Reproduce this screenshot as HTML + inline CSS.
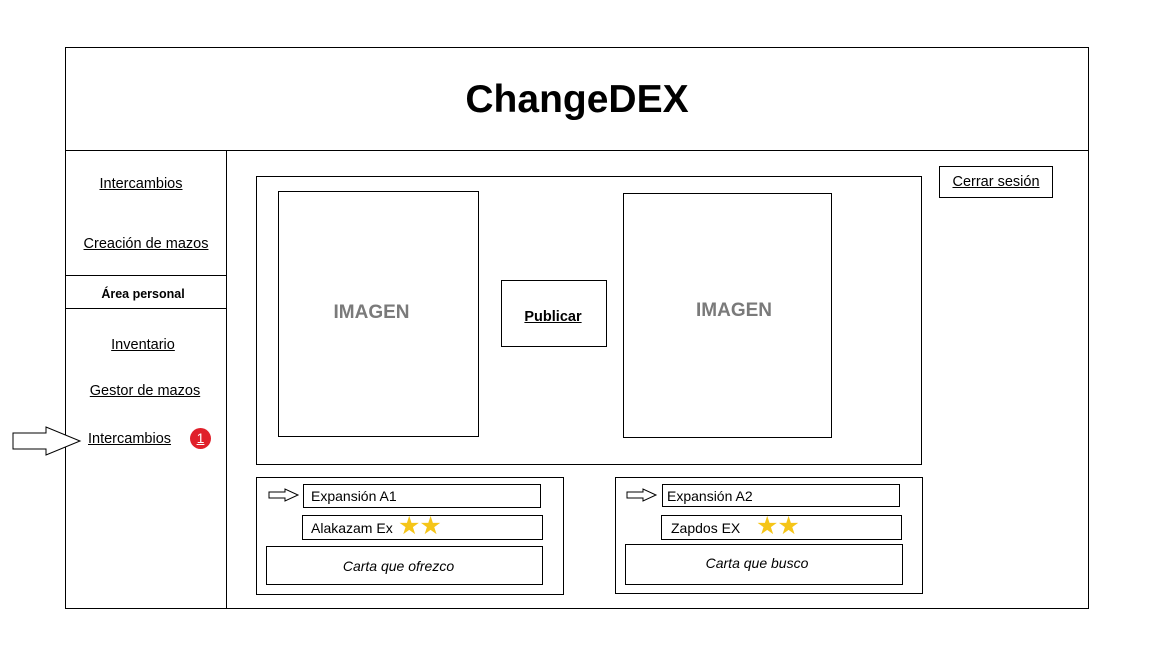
<!DOCTYPE html>
<html><head><meta charset="utf-8"><style>
html,body{margin:0;padding:0;background:#fff;}
body{width:1152px;height:648px;position:relative;overflow:hidden;font-family:"Liberation Sans",sans-serif;color:#000;}
.b{position:absolute;border:1px solid #000;box-sizing:border-box;}
.t{position:absolute;white-space:nowrap;}
.u{text-decoration:underline;font-size:14.5px;}
.c{text-align:center;}
.img{font-weight:700 !important;color:#7a7a7a;font-size:19px;}
.star{color:#f5c518;font-size:25px;letter-spacing:-1px;}
</style></head><body>
<div class="b" style="left:65px;top:47px;width:1024px;height:562px;"></div>
<div class="b" style="left:65px;top:150px;width:1024px;height:1px;border:none;background:#000;"></div>
<div class="b" style="left:226px;top:150px;width:1px;height:459px;border:none;background:#000;"></div>
<div class="b" style="left:65px;top:275px;width:162px;height:1px;border:none;background:#000;"></div>
<div class="b" style="left:65px;top:308px;width:162px;height:1px;border:none;background:#000;"></div>
<div class="t c" style="left:65px;width:1024px;top:78px;font-size:39px;font-weight:bold;">ChangeDEX</div>

<div class="t u c" style="left:65px;width:152px;top:176px;">Intercambios</div>
<div class="t u c" style="left:65px;width:162px;top:236px;">Creación de mazos</div>
<div class="t c" style="left:65px;width:156px;top:287px;font-size:12.5px;font-weight:bold;">Área personal</div>
<div class="t u c" style="left:65px;width:156px;top:337px;">Inventario</div>
<div class="t u c" style="left:65px;width:160px;top:383px;">Gestor de mazos</div>
<div class="t u" style="left:88px;top:431px;">Intercambios</div>
<div class="t" style="left:190px;top:428px;width:21px;height:21px;border-radius:50%;background:#e0202a;color:#fff;font-size:14px;text-align:center;line-height:21px;text-decoration:underline;">1</div>
<svg style="position:absolute;left:0;top:0" width="1152" height="648">
<polygon points="13,433 46,433 46,427 80,441 46,455 46,449 13,449" fill="#fff" stroke="#000" stroke-width="1"/>
<polygon points="269,492 285,492 285,489 298,495 285,501 285,498 269,498" fill="#fff" stroke="#000" stroke-width="1"/>
<polygon points="627,492 643,492 643,489 656,495 643,501 643,498 627,498" fill="#fff" stroke="#000" stroke-width="1"/>
</svg>

<div class="b" style="left:939px;top:166px;width:114px;height:32px;"></div>
<div class="t u c" style="left:939px;width:114px;top:174px;">Cerrar sesión</div>

<div class="b" style="left:256px;top:176px;width:666px;height:289px;"></div>
<div class="b" style="left:278px;top:191px;width:201px;height:246px;"></div>
<div class="t c img" style="left:278px;width:187px;top:302px;font-weight:bold;">IMAGEN</div>
<div class="b" style="left:501px;top:280px;width:106px;height:67px;"></div>
<div class="t c" style="left:501px;width:104px;top:309px;font-weight:bold;font-size:14.5px;text-decoration:underline;">Publicar</div>
<div class="b" style="left:623px;top:193px;width:209px;height:245px;"></div>
<div class="t c img" style="left:623px;width:222px;top:300px;font-weight:bold;">IMAGEN</div>

<div class="b" style="left:256px;top:477px;width:308px;height:118px;"></div>
<div class="b" style="left:303px;top:484px;width:238px;height:24px;"></div>
<div class="t" style="left:311px;top:488px;font-size:14px;">Expansión A1</div>
<div class="b" style="left:302px;top:515px;width:241px;height:25px;"></div>
<div class="t" style="left:311px;top:520px;font-size:14px;">Alakazam Ex</div>
<div class="t star" style="left:398px;top:511px;">★★</div>
<div class="b" style="left:266px;top:546px;width:277px;height:39px;"></div>
<div class="t c" style="left:266px;width:265px;top:558px;font-size:14px;font-style:italic;">Carta que ofrezco</div>

<div class="b" style="left:615px;top:477px;width:308px;height:117px;"></div>
<div class="b" style="left:662px;top:484px;width:238px;height:23px;"></div>
<div class="t" style="left:667px;top:488px;font-size:14px;">Expansión A2</div>
<div class="b" style="left:661px;top:515px;width:241px;height:25px;"></div>
<div class="t" style="left:671px;top:520px;font-size:14px;">Zapdos EX</div>
<div class="t star" style="left:756px;top:511px;">★★</div>
<div class="b" style="left:625px;top:544px;width:278px;height:41px;"></div>
<div class="t c" style="left:625px;width:264px;top:555px;font-size:14px;font-style:italic;">Carta que busco</div>
</body></html>
